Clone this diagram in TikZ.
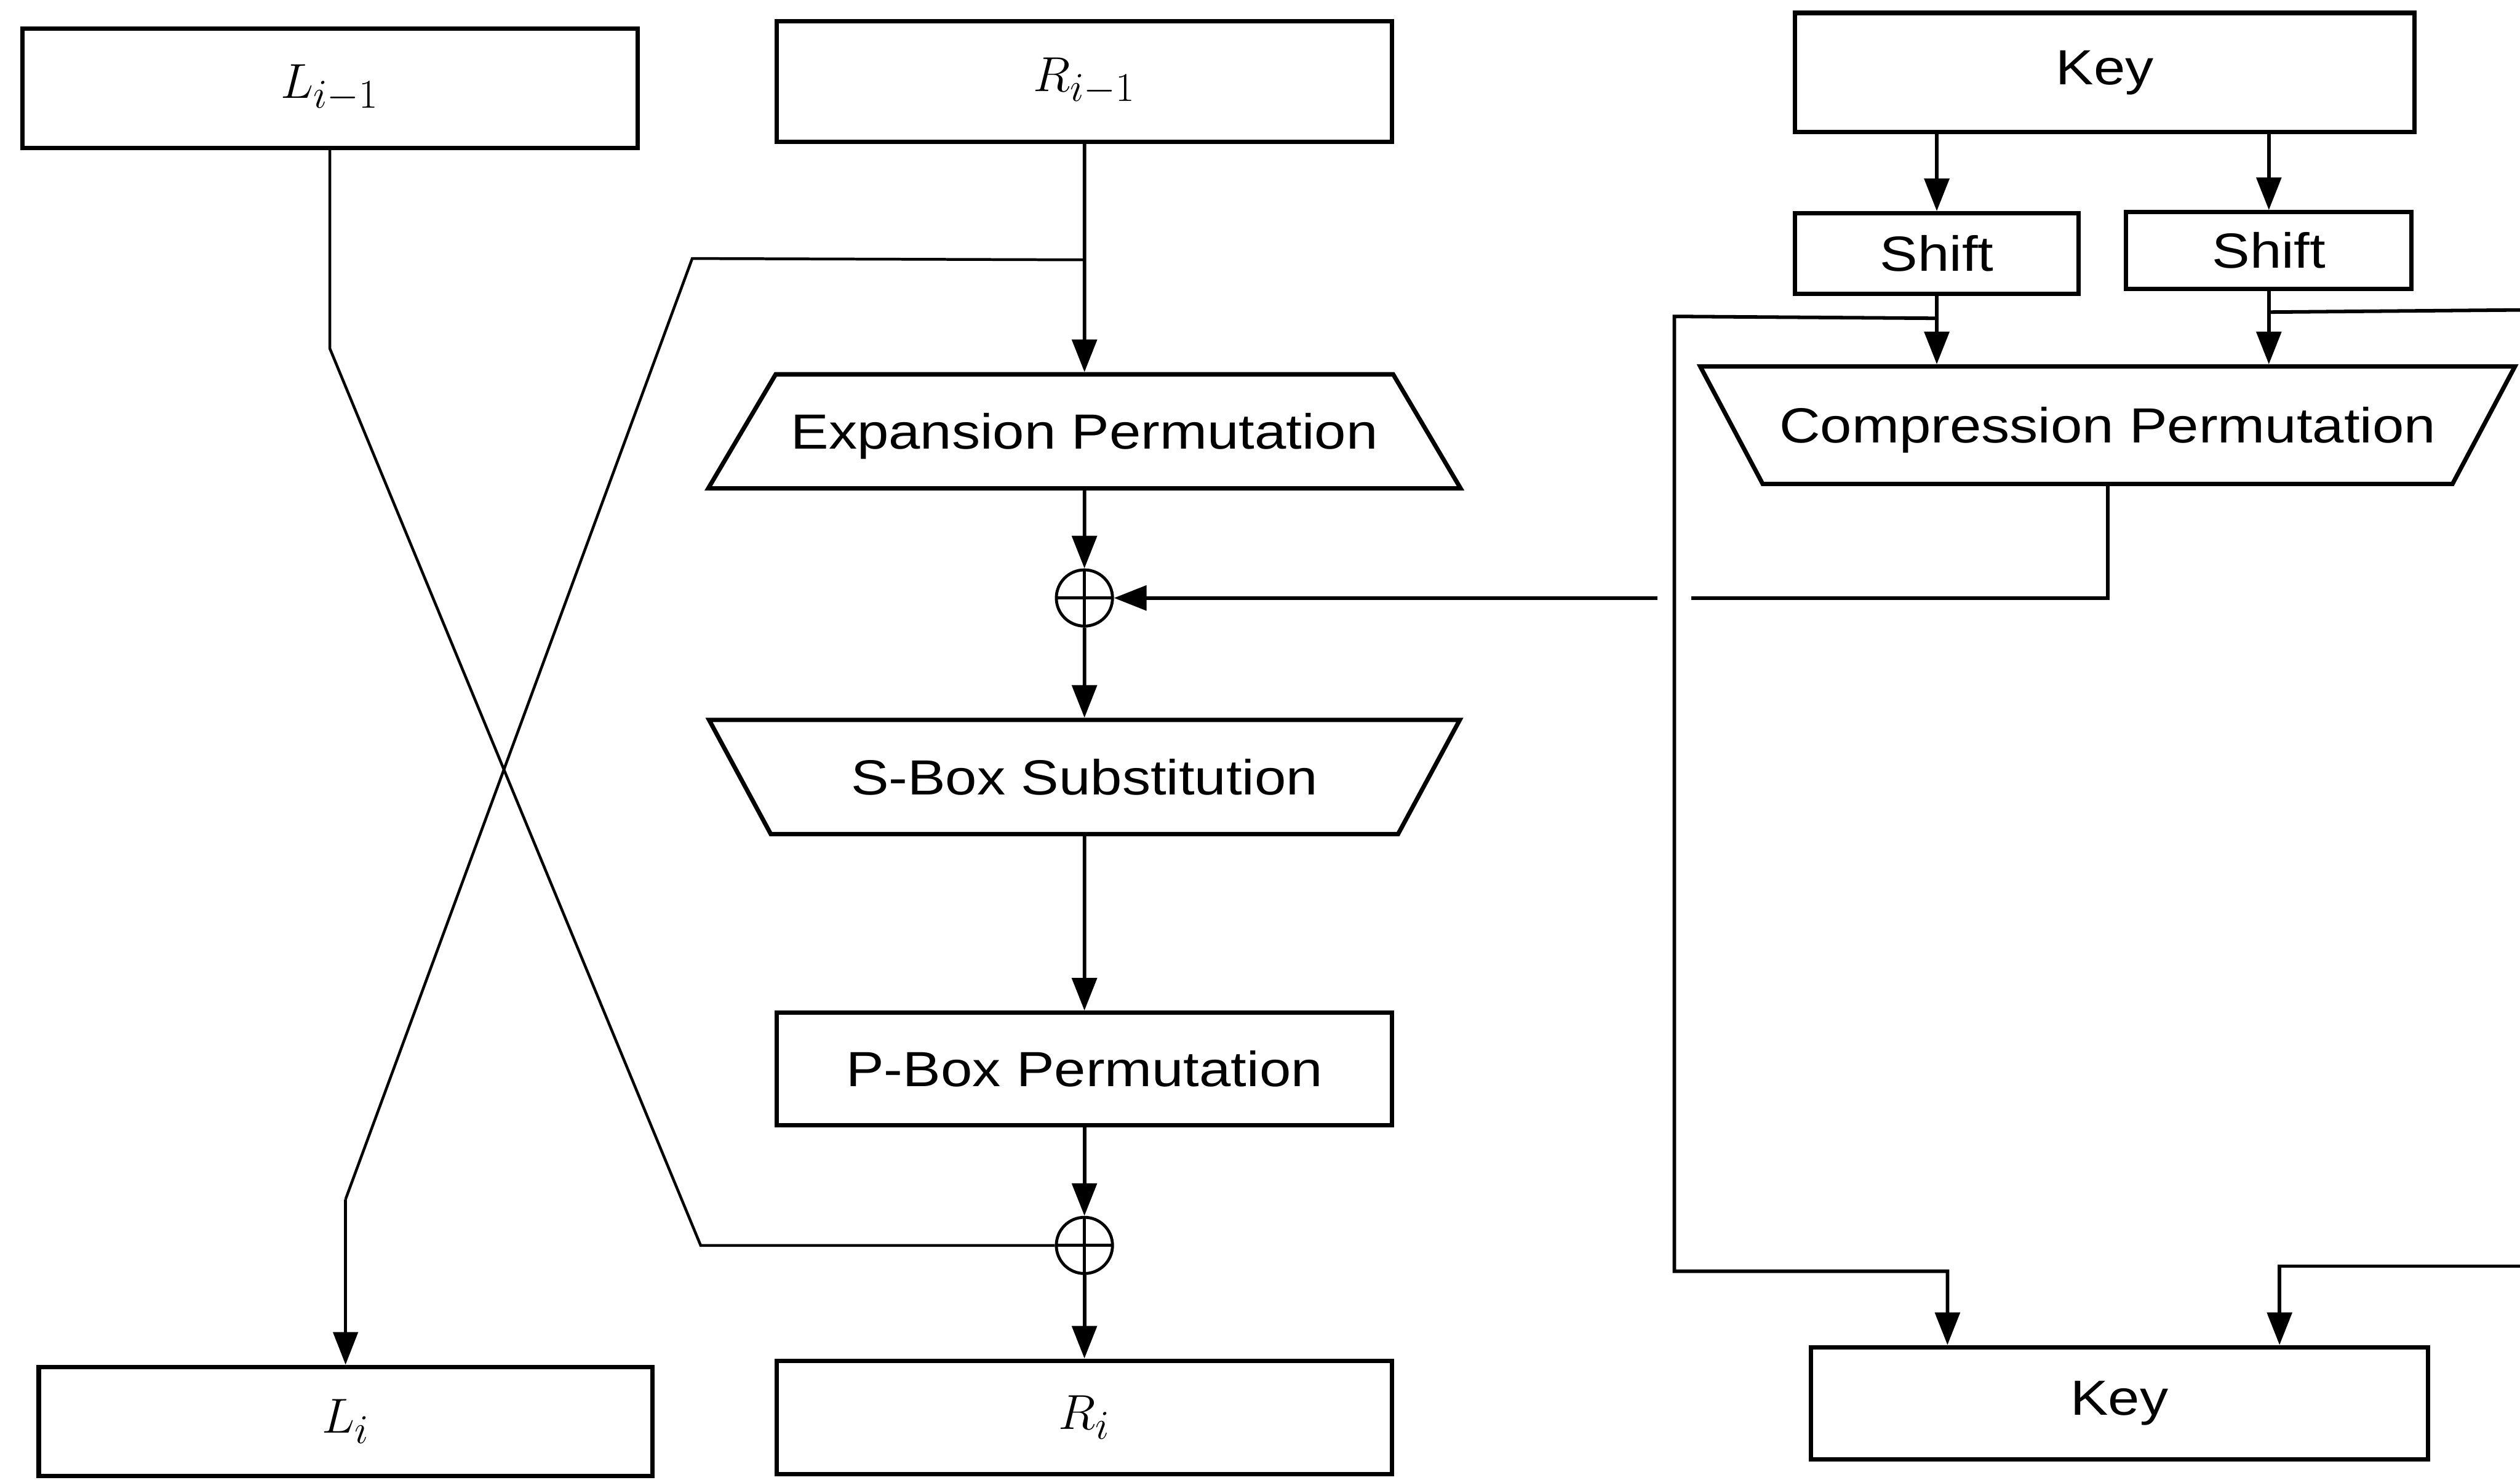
\documentclass[tikz,border=0pt]{standalone}
\usepackage{fontspec}
\newfontfamily\boxfont[FakeStretch=1.15]{Liberation Sans}
\usetikzlibrary{arrows.meta,positioning,calc,shapes.geometric}
\tikzset{
  blk/.style={draw,line width=2.2pt,inner sep=0pt,font=\boxfont\fontsize{25}{30}\selectfont},
  var/.style={draw,line width=2.2pt,inner sep=0pt,font=\fontsize{31}{36}\selectfont},
  trap/.style={blk,trapezium,trapezium stretches body=true,text height=1.33cm,text depth=0.70cm},
  xop/.style={circle,draw,line width=1.5pt,minimum size=1cm,inner sep=0pt,
    path picture={\draw[line width=1.5pt] (path picture bounding box.north) -- (path picture bounding box.south)
      (path picture bounding box.west) -- (path picture bounding box.east);}},
  arr/.style={-{Triangle[length=5.8mm,width=4.4mm]},line width=1.8pt},
  wire/.style={line width=1.8pt},
  crossw/.style={line width=1.4pt},
}
\begin{document}
\begin{tikzpicture}
  \useasboundingbox (0,0) rectangle (44.85,-26.33);
  % data halves
  \node[var,minimum width=10.95cm,minimum height=2.12cm] (Lprev) at (5.87,-1.57) {$L_{i-1}$};
  \node[var,minimum width=10.95cm,minimum height=2.15cm] (Rprev) at (19.3,-1.45) {$R_{i-1}$};
  \node[var,minimum width=10.92cm,minimum height=1.94cm] (Lnext) at (6.15,-25.29) {$L_i$};
  \node[var,minimum width=10.95cm,minimum height=2.02cm] (Rnext) at (19.3,-25.22) {$R_i$};
  % f function
  \node[trap,minimum width=13.39cm,
    trapezium left angle=59.4,trapezium right angle=59.4] (exp) at (19.3,-7.675) {Expansion Permutation};
  \node[xop] (xorA) at (19.3,-10.64) {};
  \node[trap,minimum width=13.36cm,shape border rotate=180,
    trapezium left angle=61.6,trapezium right angle=61.6] (sbox) at (19.3,-13.825) {S-Box Substitution};
  \node[blk,minimum width=10.95cm,minimum height=2.0cm] (pbox) at (19.3,-19.02) {P-Box Permutation};
  \node[xop] (xorB) at (19.3,-22.16) {};
  % key schedule
  \node[blk,minimum width=11.03cm,minimum height=2.12cm] (keyA) at (37.46,-1.29) {Key};
  \node[blk,minimum width=5.04cm,minimum height=1.43cm] (shiftA) at (34.47,-4.51) {Shift};
  \node[blk,minimum width=5.08cm,minimum height=1.37cm] (shiftB) at (40.38,-4.46) {Shift};
  \node[trap,minimum width=14.5cm,text height=1.36cm,text depth=0.73cm,shape border rotate=180,
    trapezium left angle=62,trapezium right angle=62] (comp) at (37.51,-7.565) {Compression Permutation};
  \node[blk,minimum width=10.98cm,minimum height=2.0cm] (keyB) at (37.72,-24.97) {Key};

  \coordinate (tapM) at ($(Rprev.south)+(0,-2.06)$);
  \coordinate (tapL) at ($(shiftA.south)+(0,-0.4)$);
  \coordinate (tapR) at ($(shiftB.south)+(0,-0.37)$);
  \coordinate (edgeA) at (44.85,-5.515);
  \coordinate (edgeB) at (44.85,-22.53);
  \path (xorA.center) -- ++(10.5,0) coordinate (cross);

  % main column
  \draw[arr] (Rprev) -- (exp);
  \draw[arr] (exp) -- (xorA);
  \draw[arr] (xorA) -- (sbox);
  \draw[arr] (sbox) -- (pbox);
  \draw[arr] (pbox) -- (xorB);
  \draw[arr] (xorB) -- (Rnext);
  % swap of the halves
  \draw[crossw] (Lprev.south) -- (5.87,-6.2) -- (12.47,-22.16) -- (xorB.west);
  \draw[crossw] (tapM) -- (12.32,-4.6) -- (6.15,-21.34);
  \draw[arr,line width=1.4pt] (6.15,-21.34) -- (Lnext.north);
  % subkey into the f function
  \draw[wire] (comp.south) |- ([xshift=3mm]cross);
  \draw[arr] ([xshift=-3mm]cross) -- (xorA.east);
  % key schedule wiring
  \draw[arr] (keyA.south -| shiftA) -- (shiftA.north);
  \draw[arr] (keyA.south -| shiftB) -- (shiftB.north);
  \draw[arr] (shiftA.south) -- (shiftA.south |- comp.north);
  \draw[arr] (shiftB.south) -- (shiftB.south |- comp.north);
  \draw[arr] (tapL) -- (29.8,-5.63) -- (29.8,-22.62) -| ([xshift=-3.06cm]keyB.north);
  \draw[wire] (tapR) -- (edgeA);
  \draw[arr] (edgeB) -| ([xshift=2.85cm]keyB.north);
\end{tikzpicture}
\end{document}
